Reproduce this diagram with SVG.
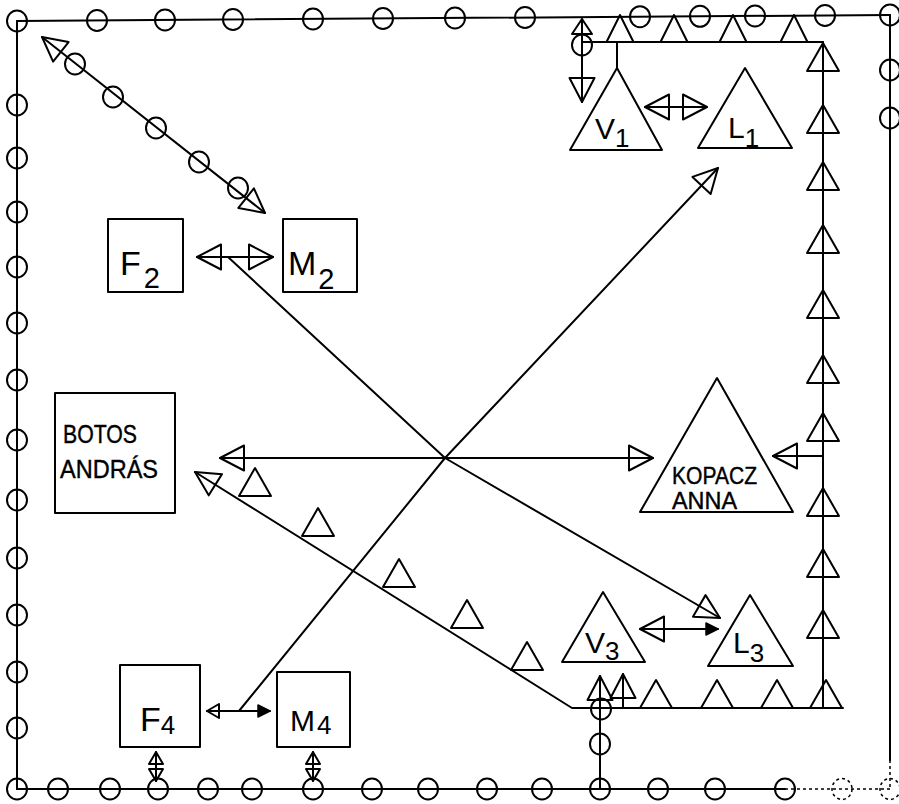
<svg xmlns="http://www.w3.org/2000/svg" xmlns:xlink="http://www.w3.org/1999/xlink" width="899" height="804" viewBox="0 0 899 804">
<style>
.ln{fill:none;stroke:#000;stroke-width:2;stroke-linecap:round;stroke-linejoin:round}
.dash{fill:none;stroke:#000;stroke-width:1.5;stroke-dasharray:3 3}
.c{fill:none;stroke:#000;stroke-width:2}
.cd{fill:none;stroke:#000;stroke-width:1.5;stroke-dasharray:3 3}
.node{fill:#fff;stroke:#000;stroke-width:2;stroke-linejoin:round}
.tri{fill:none;stroke:#000;stroke-width:2;stroke-linejoin:round}
.lbl{font-family:"Liberation Sans",Arial,sans-serif;font-size:34px;fill:#000}
.tl{font-family:"Liberation Sans",Arial,sans-serif;font-size:30px;fill:#000}
.sub{font-size:29px}
.tsub{font-size:26px}
.nm{font-family:"Liberation Sans",Arial,sans-serif;fill:#000;stroke:#000;stroke-width:0.4}
</style>
<defs>
<marker id="big" viewBox="-3 -3 30 31" refX="24" refY="12.5" markerWidth="30" markerHeight="31" markerUnits="userSpaceOnUse" orient="auto-start-reverse" overflow="visible"><path d="M24,12.5 L0,0 L0,25 Z" fill="none" stroke="#000" stroke-width="2" stroke-linejoin="round"/></marker>
<marker id="med" viewBox="-3 -3 21 26" refX="15" refY="10" markerWidth="21" markerHeight="26" markerUnits="userSpaceOnUse" orient="auto-start-reverse" overflow="visible"><path d="M15,10 L0,0 L0,20 Z" fill="none" stroke="#000" stroke-width="2" stroke-linejoin="round"/></marker>
<marker id="sm" viewBox="-3 -3 18 20" refX="12" refY="7" markerWidth="18" markerHeight="20" markerUnits="userSpaceOnUse" orient="auto-start-reverse" overflow="visible"><path d="M12,7 L0,0 L0,14 Z" fill="none" stroke="#000" stroke-width="2" stroke-linejoin="round"/></marker>
<marker id="smf" viewBox="-3 -3 18 18" refX="12" refY="6" markerWidth="18" markerHeight="18" markerUnits="userSpaceOnUse" orient="auto-start-reverse" overflow="visible"><path d="M12,6 L0,0 L0,12 Z" fill="#000" stroke="#000" stroke-width="1.5" stroke-linejoin="round"/></marker>
<path id="t" class="tri" d="M0,0 L-16,28 L16,28 Z"/>
<path id="ts" class="tri" d="M0,0 L-13.5,27 L13.5,27 Z"/>
<ellipse id="o" class="c" cx="0" cy="0" rx="10" ry="10.5"/>
</defs>

<g id="frame">
<line class="ln" x1="17" y1="21" x2="890" y2="15"/>
<line class="ln" x1="17" y1="21" x2="17" y2="789"/>
<line class="ln" x1="17" y1="789" x2="785" y2="789"/>
<line class="dash" x1="785" y1="789" x2="890" y2="789"/>
<line class="ln" x1="890" y1="15" x2="890" y2="760"/>
<line class="dash" x1="890" y1="760" x2="890" y2="789"/>
<use href="#o" x="17" y="21"/><use href="#o" x="97" y="20.5"/><use href="#o" x="165" y="20"/><use href="#o" x="233" y="19.5"/>
<use href="#o" x="313" y="19"/><use href="#o" x="383" y="18.5"/><use href="#o" x="455" y="18"/><use href="#o" x="525" y="17.5"/>
<use href="#o" x="640" y="16.7"/><use href="#o" x="700" y="16.3"/><use href="#o" x="755" y="16"/><use href="#o" x="825" y="15.5"/><use href="#o" x="890" y="15"/>
<use href="#o" x="890" y="70"/><use href="#o" x="890" y="118"/>
<use href="#o" x="17" y="105"/><use href="#o" x="17" y="158"/><use href="#o" x="17" y="212"/><use href="#o" x="17" y="267"/>
<use href="#o" x="17" y="323"/><use href="#o" x="17" y="380"/><use href="#o" x="17" y="440"/><use href="#o" x="17" y="500"/>
<use href="#o" x="17" y="558"/><use href="#o" x="17" y="615"/><use href="#o" x="17" y="672"/><use href="#o" x="17" y="728"/>
<use href="#o" x="17" y="789"/><use href="#o" x="58" y="789"/><use href="#o" x="110" y="789"/><use href="#o" x="158" y="789"/>
<use href="#o" x="208" y="789"/><use href="#o" x="252" y="789"/><use href="#o" x="313" y="789"/><use href="#o" x="372" y="789"/>
<use href="#o" x="428" y="789"/><use href="#o" x="487" y="789"/><use href="#o" x="542" y="789"/><use href="#o" x="600" y="789"/>
<use href="#o" x="658" y="789"/><use href="#o" x="715" y="789"/><use href="#o" x="785" y="789"/>
<ellipse class="cd" cx="842" cy="789" rx="10" ry="10.5"/>
<ellipse class="cd" cx="890" cy="789" rx="10" ry="10.5"/>
</g>

<g id="connectors">
<line class="ln" x1="42" y1="37" x2="265" y2="213" marker-start="url(#big)" marker-end="url(#big)"/>
<use href="#o" x="75" y="64"/><use href="#o" x="113" y="97"/><use href="#o" x="156" y="128"/><use href="#o" x="199" y="162"/><use href="#o" x="238" y="188"/>
<line class="ln" x1="582" y1="42" x2="823" y2="42"/>
<use href="#ts" x="620" y="15"/><use href="#ts" x="674" y="15"/><use href="#ts" x="733" y="15"/><use href="#ts" x="794" y="15"/>
<line class="ln" x1="582" y1="19" x2="582" y2="102" marker-start="url(#med)" marker-end="url(#big)"/>
<use href="#o" x="582" y="45"/>
<line class="ln" x1="617" y1="42" x2="617" y2="68"/>
<line class="ln" x1="823" y1="42" x2="823" y2="708"/>
<use href="#t" x="823" y="43"/><use href="#t" x="823" y="105"/><use href="#t" x="823" y="162"/><use href="#t" x="823" y="225"/>
<use href="#t" x="823" y="290"/><use href="#t" x="823" y="355"/><use href="#t" x="823" y="413"/><use href="#t" x="823" y="488"/>
<use href="#t" x="823" y="549"/><use href="#t" x="823" y="610"/>
<line class="ln" x1="823" y1="456" x2="773" y2="456" marker-end="url(#big)"/>
<line class="ln" x1="645" y1="107" x2="707" y2="107" marker-start="url(#big)" marker-end="url(#big)"/>
<line class="ln" x1="197" y1="257" x2="273" y2="257" marker-start="url(#big)" marker-end="url(#big)"/>
<line class="ln" x1="220" y1="458" x2="653" y2="458" marker-start="url(#big)" marker-end="url(#big)"/>
<polyline class="ln" points="228,257 445,458 720,618" marker-end="url(#big)"/>
<polyline class="ln" points="239,711 445,458 718,168" marker-end="url(#big)"/>
<polyline class="ln" points="195,472 572,708 843,708" marker-start="url(#big)"/>
<use href="#t" x="255" y="468"/><use href="#t" x="318" y="508"/><use href="#t" x="399" y="559"/><use href="#t" x="467" y="600"/><use href="#t" x="527" y="642"/>
<use href="#t" x="656" y="680"/><use href="#t" x="717" y="680"/><use href="#t" x="777" y="680"/><use href="#t" x="826" y="680"/>
<line class="ln" x1="600" y1="708" x2="600" y2="676" marker-end="url(#big)"/>
<line class="ln" x1="623" y1="708" x2="623" y2="674" marker-end="url(#big)"/>
<line class="ln" x1="600" y1="708" x2="600" y2="789"/>
<use href="#o" x="601" y="709"/><use href="#o" x="600" y="744"/>
<line class="ln" x1="640" y1="629" x2="718" y2="629" marker-start="url(#big)" marker-end="url(#smf)"/>
<line class="ln" x1="207" y1="711" x2="270" y2="711" marker-start="url(#sm)" marker-end="url(#smf)"/>
<line class="ln" x1="156" y1="752" x2="156" y2="781" marker-start="url(#sm)" marker-end="url(#sm)"/>
<line class="ln" x1="313" y1="752" x2="313" y2="781" marker-start="url(#sm)" marker-end="url(#sm)"/>
</g>

<g id="F2"><rect class="node" x="108" y="219" width="75" height="73"/><text class="lbl" x="120" y="275">F<tspan class="sub" dx="3" dy="13">2</tspan></text></g>
<g id="M2"><rect class="node" x="283" y="219" width="74" height="73"/><text class="lbl" x="288" y="275">M<tspan class="sub" dx="2" dy="14">2</tspan></text></g>
<g id="BOTOS"><rect class="node" x="55" y="393" width="120" height="120"/>
<text class="nm" x="63" y="443" font-size="25" textLength="74" lengthAdjust="spacingAndGlyphs">BOTOS</text>
<text class="nm" x="60" y="478" font-size="25" textLength="98" lengthAdjust="spacingAndGlyphs">ANDRÁS</text></g>
<g id="F4"><rect class="node" x="120" y="665" width="80" height="82"/><text class="lbl" x="140" y="731">F<tspan class="tsub" dy="3">4</tspan></text></g>
<g id="M4"><rect class="node" x="277" y="672" width="73" height="75"/><text class="tl" x="290" y="731">M<tspan class="tsub" dx="2" dy="3">4</tspan></text></g>
<g id="V1"><polygon class="node" points="617,68 570,150 662,150"/><text class="tl" x="595" y="139">V<tspan class="tsub" dy="8">1</tspan></text></g>
<g id="L1"><polygon class="node" points="745,68 698,148 792,148"/><text class="tl" x="728" y="138">L<tspan class="tsub" dy="9">1</tspan></text></g>
<g id="KOPACZ"><polygon class="node" points="717,378 640,512 793,512"/>
<text class="nm" x="672" y="484" font-size="23" textLength="85" lengthAdjust="spacingAndGlyphs">KOPACZ</text>
<text class="nm" x="672" y="509" font-size="23" textLength="65" lengthAdjust="spacingAndGlyphs">ANNA</text></g>
<g id="V3"><polygon class="node" points="603,592 562,662 645,662"/><text class="tl" x="585" y="653">V<tspan class="tsub" dy="7">3</tspan></text></g>
<g id="L3"><polygon class="node" points="750,595 708,666 793,666"/><text class="tl" x="733" y="653">L<tspan class="tsub" dy="9">3</tspan></text></g>
</svg>
